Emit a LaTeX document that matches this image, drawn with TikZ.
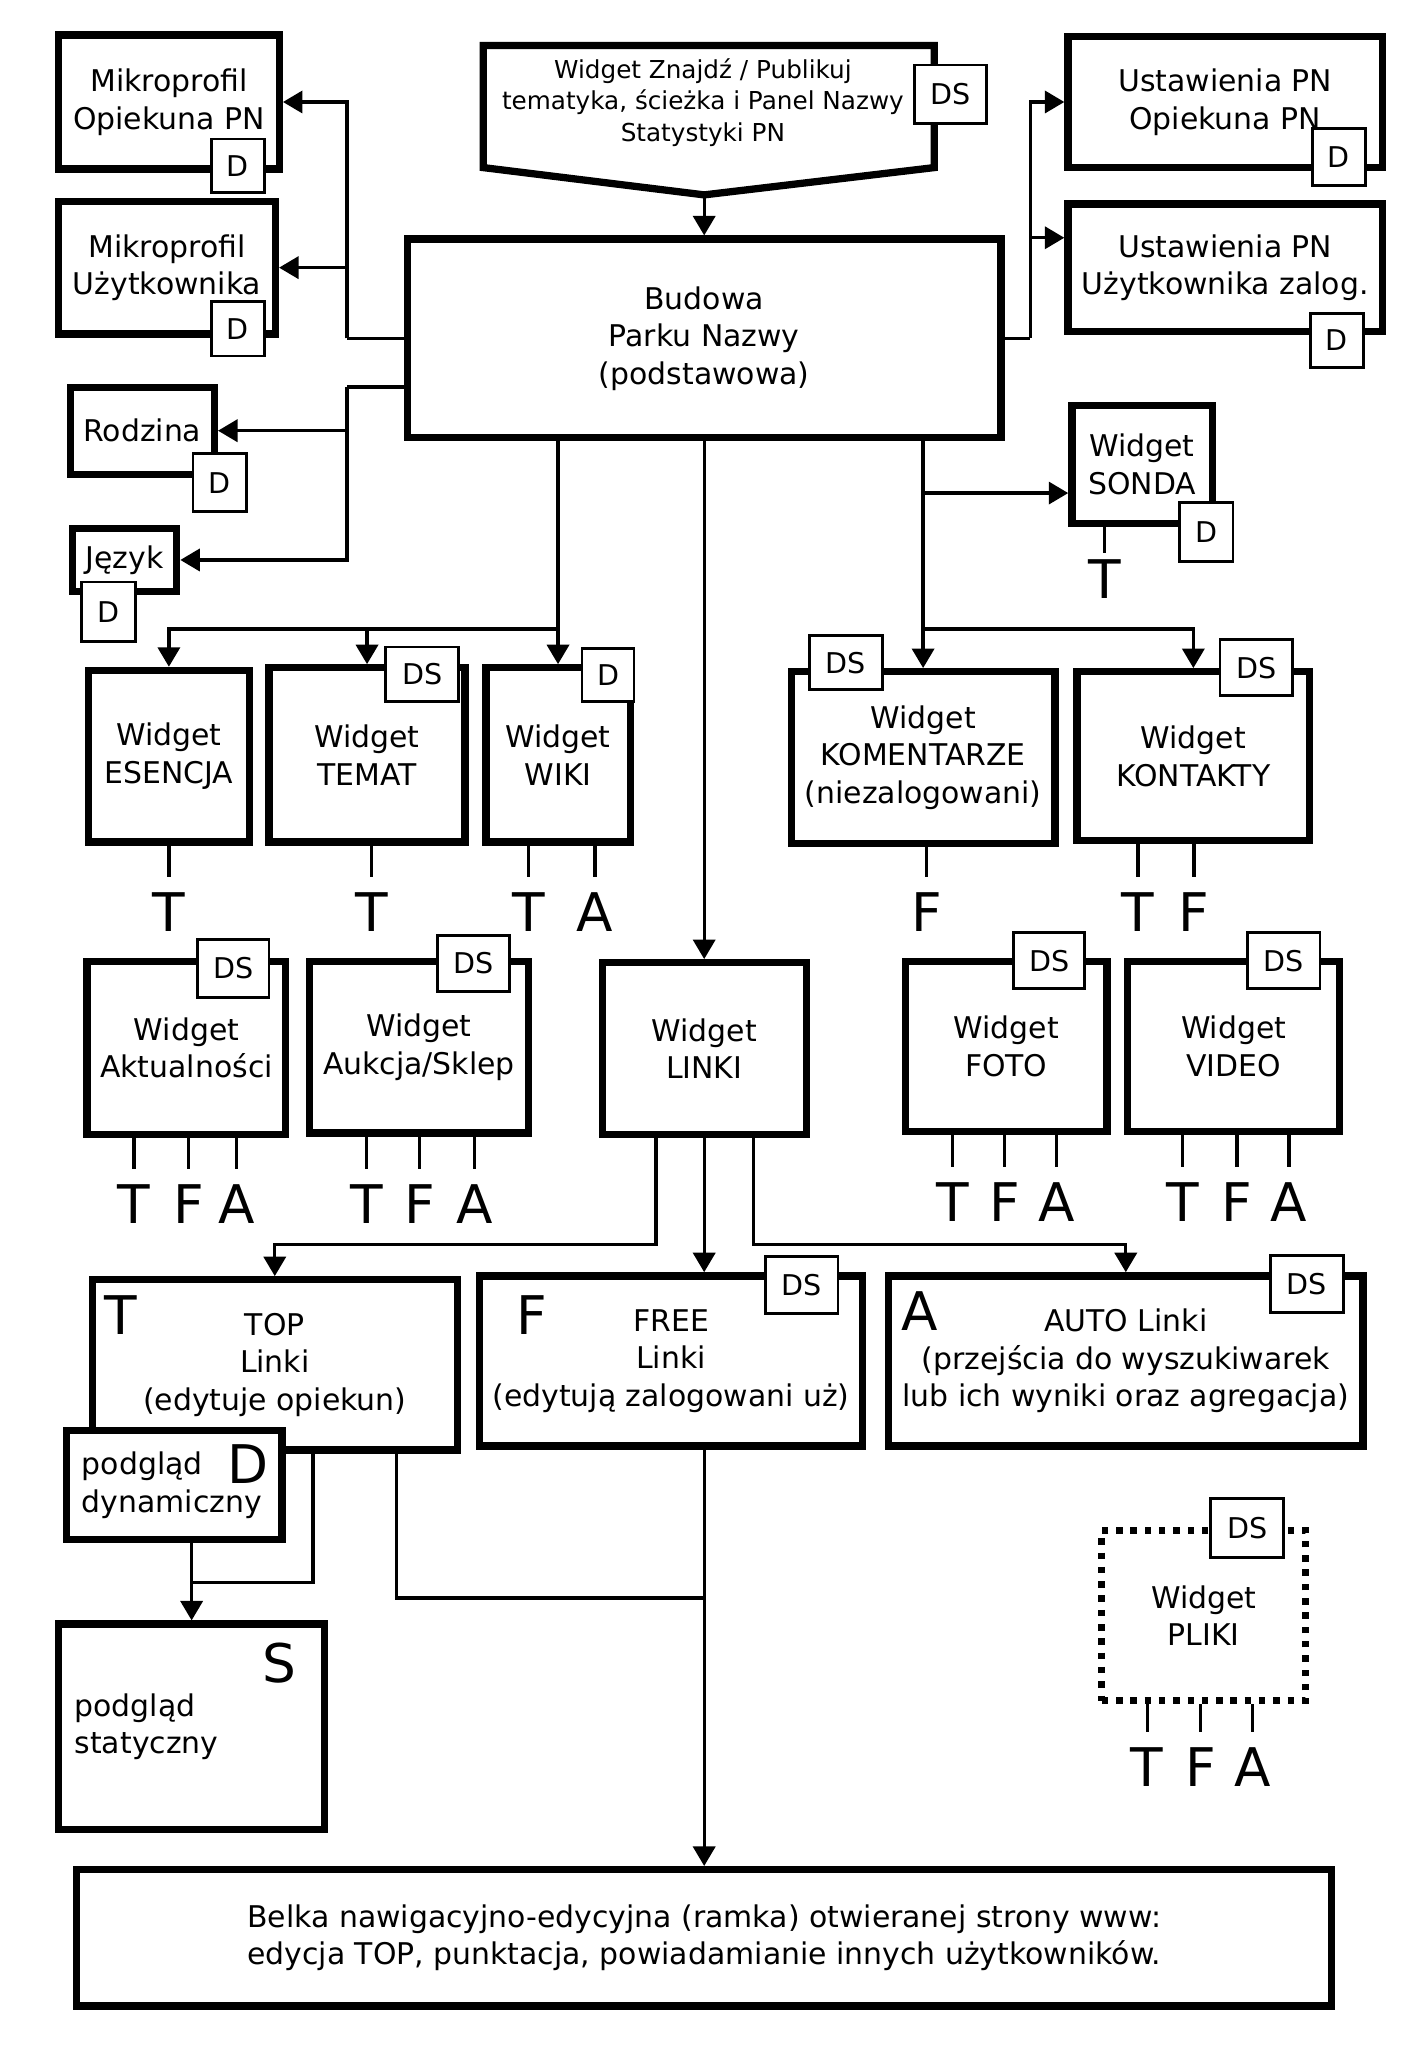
\documentclass[tikz,border=0pt]{standalone}
\usepackage{fontspec}
\setmainfont{DejaVu Sans}
\usetikzlibrary{arrows.meta}

\begin{document}
\begin{tikzpicture}[x=1pt, y=-1pt,
		widget/.style={draw, line width=5.6pt, align=center, inner sep=2pt, font=\fontsize{23}{29}\selectfont},
		tagbox/.style={draw, fill=white, line width=2.2pt, inner sep=0pt, font=\fontsize{22}{26}\selectfont},
		letter/.style={font=\fontsize{41}{48}\selectfont, inner xsep=0pt, inner ysep=12pt},
		dims/.style 2 args={minimum width=#1, minimum height=#2},
		wire/.style={line width=2.6pt},
		feed/.style={line width=2.6pt, -{Triangle[length=15pt, width=17pt]}}]

		\useasboundingbox (0,0) rectangle (1080,1574);

		% Left column
		\node[widget, dims={170}{103}] (mikroO) at (130,78.5) {Mikroprofil\\Opiekuna PN};
		\node[widget, dims={167}{102}] (mikroU) at (128.5,206) {Mikroprofil\\Użytkownika};
		\node[widget, dims={111}{67}] (rodzina) at (109.5,331.5) {Rodzina};
		\node[widget, dims={80}{48}] (jezyk) at (96,431) {Język};

		% Centre
		\node[font=\fontsize{19}{24}\selectfont, align=center] (znajdz) at (541,79) {Widget Znajdź / Publikuj\\tematyka, ścieżka i Panel Nazwy\\Statystyki PN};
		\coordinate (zTip) at (542,150);
		\draw[line width=5.6pt] (372,35) -- (719,35) -- (719,129) -- (zTip) -- (372,129) -- cycle;
		\node[widget, dims={457}{153}] (budowa) at (542,260.5) {Budowa\\Parku Nazwy\\(podstawowa)};

		% Right column
		\node[widget, dims={242}{101}] (ustO) at (943,78.5) {Ustawienia PN\\Opiekuna PN};
		\node[widget, dims={242}{98}] (ustU) at (943,206) {Ustawienia PN\\Użytkownika zalog.};
		\node[widget, dims={108}{91}] (sonda) at (879,357.5) {Widget\\SONDA};

		% Widgets, upper row
		\node[widget, dims={124}{132}] (esencja) at (130,582) {Widget\\ESENCJA};
		\node[widget, dims={151}{134}] (temat) at (282.5,581) {Widget\\TEMAT};
		\node[widget, dims={111}{134}] (wiki) at (429.5,581) {Widget\\WIKI};
		\node[widget, dims={203}{132}] (komentarze) at (710.5,583) {Widget\\KOMENTARZE\\(niezalogowani)};
		\node[widget, dims={179}{130}] (kontakty) at (918.5,582) {Widget\\KONTAKTY};

		% Widgets, lower row
		\node[widget, dims={153}{133}] (aktual) at (143.5,806.5) {Widget\\Aktualności};
		\node[widget, dims={169}{132}] (aukcja) at (322.5,806) {Widget\\Aukcja/Sklep};
		\node[widget, dims={157}{132}] (linki) at (542,807) {Widget\\LINKI};
		\node[widget, dims={155}{131}] (foto) at (774.5,805.5) {Widget\\FOTO};
		\node[widget, dims={163}{131}] (video) at (949.5,805.5) {Widget\\VIDEO};

		% Links
		\node[widget, dims={281}{131}] (top) at (211.5,1050.5) {TOP\\Linki\\(edytuje opiekun)};
		\node[widget, dims={295}{131}] (free) at (516.5,1047.5) {FREE\\Linki\\(edytują zalogowani uż)};
		\node[widget, dims={365}{131}] (auto) at (866.5,1047.5) {AUTO Linki\\(przejścia do wyszukiwarek\\lub ich wyniki oraz agregacja)};
		\node[widget, fill=white, align=left, text width=142, inner xsep=11, dims={166}{84}] (dyn) at (134,1143) {podgląd\\dynamiczny};
		\node[widget, align=left, text width=180, inner xsep=12, dims={205}{158}] (stat) at (147.5,1329) {podgląd\\statyczny};
		\node[widget, line width=5.4pt, dash pattern=on 5pt off 6pt, dims={157}{131}] (pliki) at (926.5,1243.5) {Widget\\PLIKI};
		\node[widget, dims={966}{105}] (belka) at (542,1491.5) {Belka nawigacyjno-edycyjna (ramka) otwieranej strony www:\\edycja TOP, punktacja, powiadamianie innych użytkowników.};

		% Big letters in boxes
		\node[letter] (tTop) at (93,1012) {T};
		\node[letter] (fFree) at (409,1012) {F};
		\node[letter] (aAuto) at (708,1009) {A};
		\node[letter, inner ysep=0pt] (dDyn) at (191,1127) {D};
		\node[letter] (sStat) at (215,1280) {S};

		% Connectors round Budowa
		\draw[feed] (zTip) -- (budowa.north -| zTip);
		\coordinate (busL) at (267,258);
		\coordinate (busL2) at (267,298);
		\coordinate (busR) at (793,258);
		\draw[wire] (budowa.west) -- (budowa.west -| busL);
		\draw[feed] (budowa.west -| busL) |- (mikroO.east);
		\draw[feed] (budowa.west -| busL) |- (mikroU.east);
		\draw[wire] (busL2 -| budowa.west) -- (busL2);
		\draw[feed] (busL2) |- (rodzina.east);
		\draw[feed] (busL2) |- (jezyk.east);
		\draw[wire] (budowa.east) -- (budowa.east -| busR);
		\draw[feed] (budowa.east -| busR) |- (ustO.west);
		\draw[feed] (budowa.east -| busR) |- ([yshift=23pt]ustU.west);

		% Down to the widgets
		\coordinate (busW) at (0,484);
		\draw[feed] (budowa.south -| wiki.north) -- (wiki.north);
		\draw[feed] (busW -| wiki.north) -| (esencja.north);
		\draw[feed] (busW -| temat.north) -- (temat.north);
		\draw[feed] (budowa.south -| linki.north) -- (linki.north);
		\draw[feed] (budowa.south -| komentarze.north) -- (komentarze.north);
		\draw[feed] (budowa.south -| komentarze.north) |- ([yshift=-22pt]sonda.west);
		\draw[feed] (busW -| komentarze.north) -| (kontakty.north);

		% From LINKI
		\coordinate (busT) at (0,958);
		\draw[feed] ([xshift=-37pt]linki.south) |- (busT -| top.north) -- (top.north);
		\draw[feed] (linki.south) -- (linki.south |- free.north);
		\draw[feed] ([xshift=38pt]linki.south) |- (busT -| auto.north) -- (auto.north);

		% From TOP and FREE
		\coordinate (busS) at (0,1218);
		\coordinate (busB) at (0,1230);
		\draw[feed] (stat.north |- dyn.south) -- (stat.north);
		\draw[wire] ([xshift=29.5pt]top.south) |- (busS -| stat.north);
		\draw[feed] (belka.north |- free.south) -- (belka.north);
		\draw[wire] ([xshift=93.5pt]top.south) |- (busB -| belka.north);

		% Tags
		\node[tagbox, dims={41}{41}] (dMikroO) at (183,127.5) {D};
		\node[tagbox, dims={41}{42}] (dMikroU) at (183,253) {D};
		\node[tagbox, dims={41}{45}] (dRodzina) at (169,371.5) {D};
		\node[tagbox, dims={41}{46}] (dJezyk) at (83.5,471) {D};
		\node[tagbox, dims={55}{45}] (dsZnajdz) at (731.5,72.5) {DS};
		\node[tagbox, dims={41}{44}] (dUstO) at (1030.5,121) {D};
		\node[tagbox, dims={41}{42}] (dUstU) at (1029,262) {D};
		\node[tagbox, dims={41}{45}] (dSonda) at (928.5,409.5) {D};
		\node[tagbox, dims={56}{42}] (dsTemat) at (325,519) {DS};
		\node[tagbox, dims={40}{41}] (dWiki) at (468,519.5) {D};
		\node[tagbox, dims={56}{42}] (dsKoment) at (651,510) {DS};
		\node[tagbox, dims={56}{43}] (dsKontakty) at (967,514) {DS};
		\node[tagbox, dims={55}{45}] (dsAktual) at (179.5,745.5) {DS};
		\node[tagbox, dims={55}{43}] (dsAukcja) at (364.5,741.5) {DS};
		\node[tagbox, dims={55}{43}] (dsFoto) at (807.5,739.5) {DS};
		\node[tagbox, dims={56}{43}] (dsVideo) at (988,739.5) {DS};
		\node[tagbox, dims={56}{44}] (dsFree) at (617,989) {DS};
		\node[tagbox, dims={56}{44}] (dsAuto) at (1006,988) {DS};
		\node[tagbox, dims={56}{45}] (dsPliki) at (960,1176) {DS};

		% Letters under the widgets
		\node[letter, inner ysep=5pt] (sonda-T) at (850,446) {T};
		\draw[wire] (sonda-T |- sonda.south) -- (sonda-T.north);
		\foreach \w/\l/\x/\y in {esencja/T/130/702, temat/T/286/702, wiki/T/407/702, wiki/A/458/702,
				komentarze/F/713/702, kontakty/T/876/702, kontakty/F/919/702,
				aktual/T/103/927, aktual/F/145/927, aktual/A/182/927,
				aukcja/T/282/927, aukcja/F/323/927, aukcja/A/365/927,
				foto/T/733/925, foto/F/773/925, foto/A/813/925,
				video/T/910/925, video/F/952/925, video/A/992/925,
				pliki/T/883/1360, pliki/F/924/1360, pliki/A/964/1360}
		{
			\node[letter] (\w-\l) at (\x,\y) {\l};
			\draw[wire] (\w-\l |- \w.south) -- (\w-\l.north);
		}
	\end{tikzpicture}
\end{document}
